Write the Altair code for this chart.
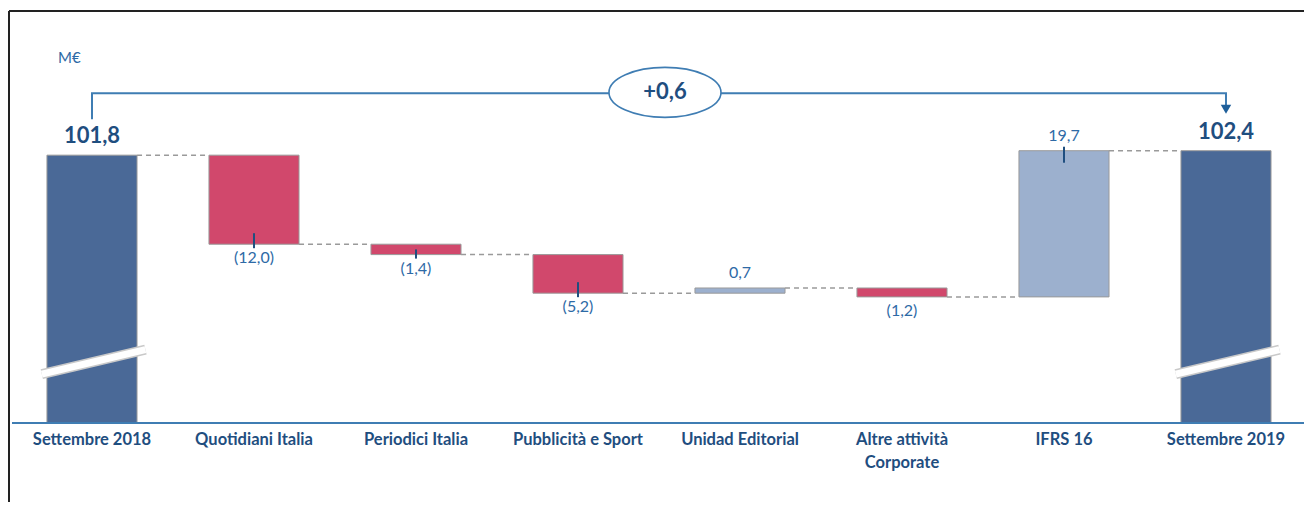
import altair as alt
import pandas as pd

# ---- data ----
categories = ["Settembre 2018", "Quotidiani Italia", "Periodici Italia", "Pubblicità e Sport",
              "Unidad Editorial", "Altre attività\nCorporate", "IFRS 16", "Settembre 2019"]
values = [101.8, -12.0, -1.4, -5.2, 0.7, -1.2, 19.7, 102.4]
kinds = ["total", "neg", "neg", "neg", "pos", "neg", "pos", "total"]
value_labels = ["101,8", "(12,0)", "(1,4)", "(5,2)", "0,7", "(1,2)", "19,7", "102,4"]
ticked = [False, True, True, True, False, False, True, False]
axis_floor = 65.7           # value where the broken axis sits
break_low, break_high = 72.3, 75.6   # axis-break band on the total bars
bracket_low, bracket_top, arrow_y = 106.65, 110.16, 108.0
delta_label = "+0,6"
delta_x = 3.537
unit_label = "M€"

PX_PER_UNIT = 7.42
Y_TOP = 121.23

# ---- derived table ----
rows = []
running = 0.0
for i, (c, v, k) in enumerate(zip(categories, values, kinds)):
    if k == "total":
        start, end = axis_floor, v
        running = v
    else:
        start, end = running, running + v
        running = end
    if k == "neg":
        tin = min(start - 0.7, end + 11 / PX_PER_UNIT)
    else:
        tin = max(start + 0.7, end - 12 / PX_PER_UNIT)
    rows.append(dict(i=i, cat=c, kind=k, start=start, end=end, tin=tin,
                     x1=i - 0.278, x2=i + 0.278, label=value_labels[i], tick=ticked[i]))
df = pd.DataFrame(rows)

conn = pd.DataFrame([dict(x1=r.i + 0.278, x2=r.i + 1 - 0.278, y=r.end)
                     for r in df.itertuples() if r.i < len(df) - 1])
brk = df[df.kind == "total"].assign(bx1=lambda d: d.i - 0.31, bx2=lambda d: d.i + 0.33,
                                    by1=break_low, by2=break_high)
bracket = pd.DataFrame(dict(x=[0, 0, 7, 7], y=[bracket_low, bracket_top, bracket_top, arrow_y], o=[0, 1, 2, 3]))

W, H = 1295, 491
xsc = alt.Scale(domain=[-0.5123, -0.5123 + W / 162.0], nice=False, zero=False)
ysc = alt.Scale(domain=[Y_TOP - H / PX_PER_UNIT, Y_TOP], nice=False, zero=False)

FONT = "Lato"
DARK = "#1f4e7f"
MID = "#2e6aa6"
LINE = "#3f7db3"

base = alt.Chart(df)

bars = base.mark_rect(stroke="#9a9a9a", strokeWidth=1).encode(
    x=alt.X("x1:Q", scale=xsc, axis=None), x2="x2:Q",
    y=alt.Y("start:Q", scale=ysc, axis=None), y2="end:Q",
    color=alt.Color("kind:N", scale=alt.Scale(domain=["total", "neg", "pos"],
                                              range=["#4a6997", "#d1486c", "#9cb0ce"]), legend=None),
)

connectors = alt.Chart(conn).mark_rule(color="#9a9a9a", strokeDash=[5, 4], strokeWidth=1.5).encode(
    x=alt.X("x1:Q", scale=xsc, axis=None), x2="x2:Q", y=alt.Y("y:Q", scale=ysc, axis=None))

break_edge = alt.Chart(brk).mark_rule(color="#c9c9c9", strokeWidth=10).encode(
    x=alt.X("bx1:Q", scale=xsc, axis=None), x2="bx2:Q",
    y=alt.Y("by1:Q", scale=ysc, axis=None), y2="by2:Q")
break_band = alt.Chart(brk).mark_rule(color="white", strokeWidth=7).encode(
    x=alt.X("bx1:Q", scale=xsc, axis=None), x2="bx2:Q",
    y=alt.Y("by1:Q", scale=ysc, axis=None), y2="by2:Q")

axis_line = alt.Chart(pd.DataFrame(dict(y=[axis_floor]))).mark_rule(color=LINE, strokeWidth=2).encode(
    x=alt.value(3), x2=alt.value(W), y=alt.Y("y:Q", scale=ysc, axis=None))

neg = df[(df.kind == "neg")]
pos = df[(df.kind == "pos")]
tot = df[(df.kind == "total")]

tick_neg = alt.Chart(neg[neg.tick]).mark_rule(color=DARK, strokeWidth=2, yOffset=4).encode(
    x=alt.X("i:Q", scale=xsc, axis=None), y=alt.Y("end:Q", scale=ysc, axis=None), y2="tin:Q")
tick_pos = alt.Chart(pos[pos.tick]).mark_rule(color=DARK, strokeWidth=2, yOffset=-4).encode(
    x=alt.X("i:Q", scale=xsc, axis=None), y=alt.Y("end:Q", scale=ysc, axis=None), y2="tin:Q")

lab_neg = alt.Chart(neg).mark_text(font=FONT, fontSize=16, color=MID, baseline="top", dy=6).encode(
    x=alt.X("i:Q", scale=xsc, axis=None), y=alt.Y("end:Q", scale=ysc, axis=None), text="label:N")
lab_pos = alt.Chart(pos).mark_text(font=FONT, fontSize=16, color=MID, baseline="bottom", dy=-7).encode(
    x=alt.X("i:Q", scale=xsc, axis=None), y=alt.Y("end:Q", scale=ysc, axis=None), text="label:N")
lab_tot = alt.Chart(tot).mark_text(font=FONT, fontSize=22, fontWeight="bold", color=DARK,
                                   baseline="bottom", dy=-7).encode(
    x=alt.X("i:Q", scale=xsc, axis=None), y=alt.Y("end:Q", scale=ysc, axis=None), text="label:N")

cat_labels = base.mark_text(font=FONT, fontSize=16.5, fontWeight="bold", color=DARK, baseline="top",
                            lineBreak="\n", lineHeight=23).encode(
    x=alt.X("i:Q", scale=xsc, axis=None), y=alt.value(421), text="cat:N")

bracket_line = alt.Chart(bracket).mark_line(color=LINE, strokeWidth=2, interpolate="linear").encode(
    x=alt.X("x:Q", scale=xsc, axis=None), y=alt.Y("y:Q", scale=ysc, axis=None), order="o:Q")
arrow = alt.Chart(pd.DataFrame(dict(x=[7], y=[arrow_y]))).mark_point(
    shape="triangle-down", filled=True, size=110, color="#1f5f9a", opacity=1).encode(
    x=alt.X("x:Q", scale=xsc, axis=None), y=alt.Y("y:Q", scale=ysc, axis=None))

delta_df = pd.DataFrame(dict(x=[delta_x], y=[bracket_top + 0.1], t=[delta_label]))
oval = alt.Chart(delta_df).mark_point(
    shape="M-1,0 A1,0.446 0 1,1 1,0 A1,0.446 0 1,1 -1,0 Z",
    size=112 * 112, fill="white", stroke=LINE, strokeWidth=1.6, opacity=1, fillOpacity=1).encode(
    x=alt.X("x:Q", scale=xsc, axis=None), y=alt.Y("y:Q", scale=ysc, axis=None))
delta_text = alt.Chart(delta_df).mark_text(font=FONT, fontSize=22, fontWeight="bold", color=DARK,
                                           baseline="middle").encode(
    x=alt.X("x:Q", scale=xsc, axis=None), y=alt.Y("y:Q", scale=ysc, axis=None), text="t:N")

unit = alt.Chart(pd.DataFrame(dict(t=[unit_label]))).mark_text(
    font=FONT, fontSize=15, color=MID, align="left", baseline="middle").encode(
    x=alt.value(49), y=alt.value(47), text="t:N")

border_top = alt.Chart(pd.DataFrame(dict(a=[0]))).mark_rule(color="#222222", strokeWidth=2).encode(
    x=alt.value(0), x2=alt.value(W), y=alt.value(0))
border_left = alt.Chart(pd.DataFrame(dict(a=[0]))).mark_rule(color="#222222", strokeWidth=2).encode(
    x=alt.value(0), y=alt.value(0), y2=alt.value(H))

chart = alt.layer(
    connectors, bars, break_edge, break_band, axis_line, tick_neg, tick_pos,
    lab_neg, lab_pos, lab_tot, cat_labels, bracket_line, arrow, oval, delta_text, unit,
    border_top, border_left
).properties(
    width=W, height=H,
    autosize=alt.AutoSizeParams(type="none"),
    padding={"left": 1, "top": 3, "right": 0, "bottom": 0},
).configure_view(strokeWidth=0)

chart.save("out.html", embed_options={"renderer": "svg", "actions": False})
